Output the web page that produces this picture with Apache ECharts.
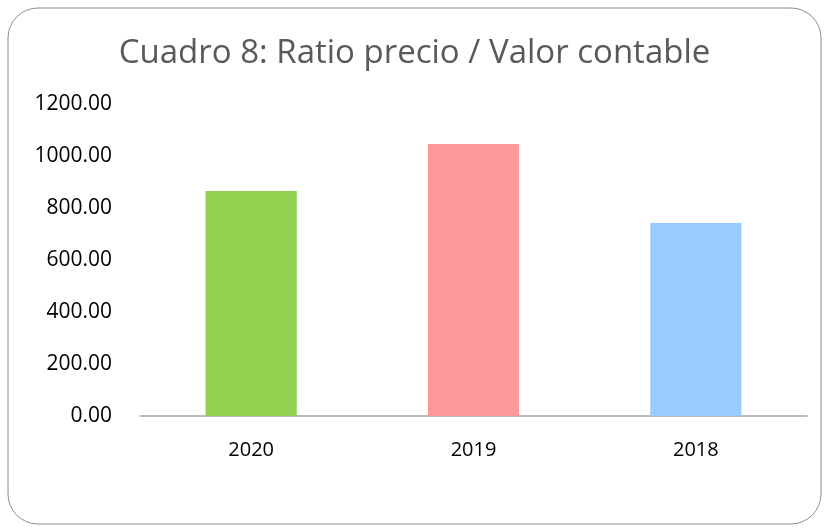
<!DOCTYPE html>
<html>
<head>
<meta charset="utf-8">
<script src="https://cdn.jsdelivr.net/npm/echarts@6/dist/echarts.min.js"></script>
<style>
  html, body { margin: 0; padding: 0; background: #fff; }
  #grafico { width: 829px; height: 531px; }
</style>
</head>
<body>
<div id="grafico"></div>
<script>
// Datos del gráfico
const categories = ['2020', '2019', '2018'];
const values = [865, 1046, 742];
const barColors = ['#92d050', '#ff9999', '#99ccff'];

document.addEventListener('DOMContentLoaded', function () {
    var myChart = echarts.init(document.getElementById('grafico'));

    var option = {
        backgroundColor: '#fff',
        title: {
            text: 'Cuadro 8: Ratio precio / Valor contable',
            left: 'center',
            top: 32,
            textStyle: {
                fontFamily: 'Open Sans',
                fontSize: 33,
                fontWeight: 'normal',
                color: '#595959'
            }
        },
        graphic: [{
            type: 'rect',
            shape: { x: 8, y: 8, width: 813, height: 516, r: 30 },
            style: { fill: 'none', stroke: '#8c8c8c', lineWidth: 1 },
            z: -1
        }],
        grid: { left: 140, right: 22, top: 104, bottom: 115 },
        xAxis: {
            type: 'category',
            data: categories,
            axisLine: { lineStyle: { color: '#a6a6a6', width: 1.5 } },
            axisTick: { show: false },
            axisLabel: {
                margin: 24,
                fontFamily: 'Open Sans',
                fontSize: 20,
                color: '#000'
            }
        },
        yAxis: {
            type: 'value',
            min: 0,
            max: 1200,
            interval: 200,
            splitLine: { show: false },
            axisLine: { show: false },
            axisTick: { show: false },
            axisLabel: {
                margin: 28,
                fontFamily: 'Open Sans',
                fontSize: 21,
                color: '#000',
                formatter: function (v) { return v.toFixed(2); }
            }
        },
        series: [{
            type: 'bar',
            barWidth: '41%',
            data: values.map((v, i) => ({ value: v, itemStyle: { color: barColors[i] } }))
        }]
    };

    myChart.setOption(option);
});
</script>
</body>
</html>
